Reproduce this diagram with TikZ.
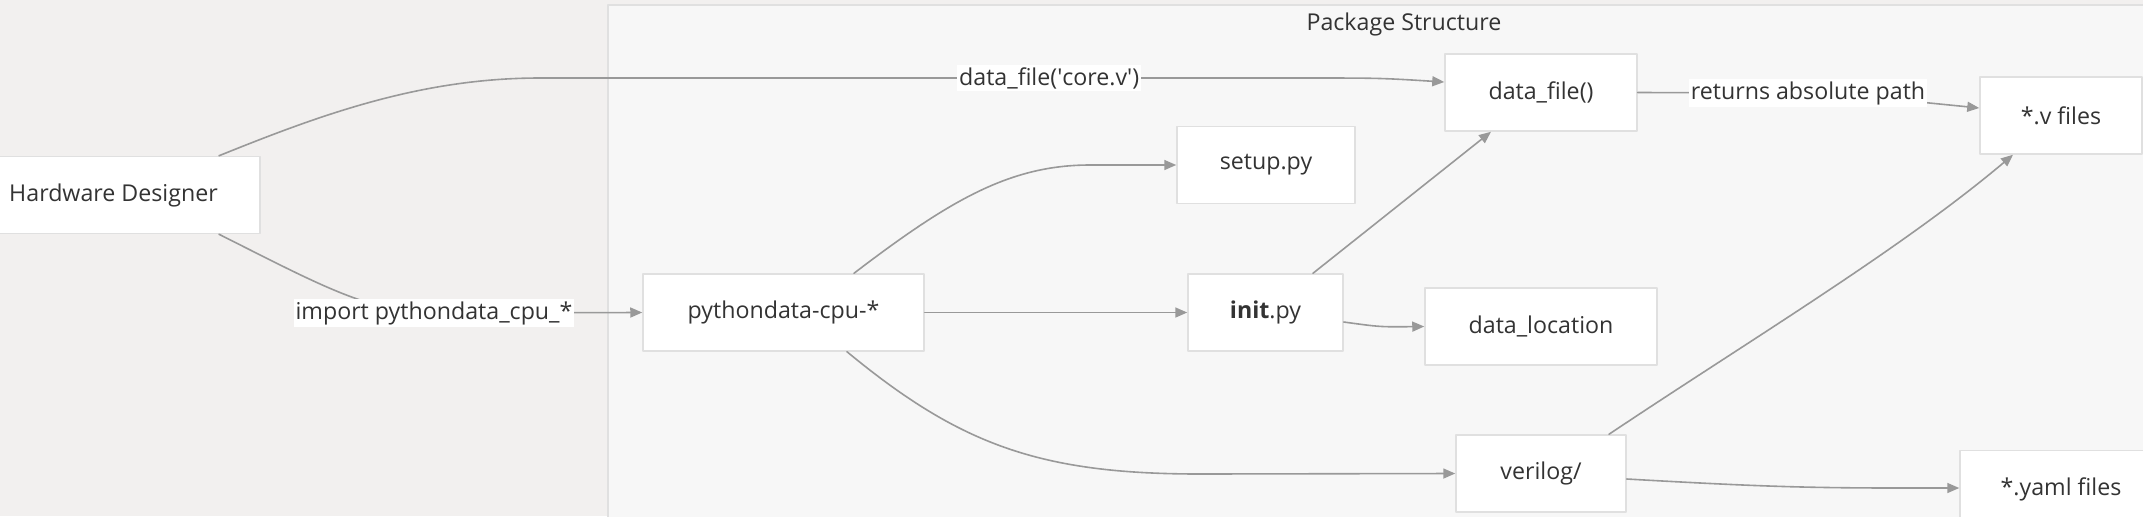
\documentclass[tikz,border=0pt]{standalone}
\usepackage{fontspec}
\setmainfont{Open Sans}
\usetikzlibrary{arrows.meta}
\definecolor{pagebg}{RGB}{242,240,239}
\definecolor{clusterbg}{RGB}{247,247,247}
\definecolor{boxline}{RGB}{224,224,224}
\definecolor{edgegray}{RGB}{153,153,153}
\definecolor{txt}{RGB}{51,51,51}
\begin{document}
\begin{tikzpicture}[x=0.5pt, y=-0.5pt, font=\fontsize{11.6}{13}\selectfont, line join=round, line cap=round, >={Triangle[length=6pt,width=5pt]},
	box/.style={draw=boxline, line width=0.75pt, fill=white, text=txt, minimum height=38.5pt, inner sep=0pt},
	flow/.style={draw=edgegray, line width=0.8pt, ->},
	lbl/.style={fill=white, text=txt, inner sep=1pt}]
	\useasboundingbox[fill=pagebg] (0,0) rectangle (2143,516);
	\draw[draw=boxline, fill=clusterbg, line width=0.75pt] (608,5) rectangle (2160,530);
	\node[text=txt] (title) at (1404,24) {Package Structure};
	% nodes
	\node[box, minimum width=146.5pt] (hd) at (113.5,195) {Hardware Designer};
	\node[box, minimum width=140.5pt] (py) at (783.5,312.5) {pythondata-cpu-*};
	\node[box, minimum width=89pt] (setup) at (1266,165) {setup.py};
	\node[box, minimum width=77.5pt] (init) at (1265.5,312.5) {\textbf{init}.py};
	\node[box, minimum width=96pt] (df) at (1541,92.5) {data\_file()};
	\node[box, minimum width=81pt] (vf) at (2061,115.5) {*.v files};
	\node[box, minimum width=116pt] (dl) at (1541,326.5) {data\_location};
	\node[box, minimum width=85pt] (vl) at (1541,473.5) {verilog/};
	\node[box, minimum width=101pt] (yf) at (2061,489) {*.yaml files};
	% edges
	\draw[flow] (hd.north -| 219,0) .. controls (320,115) and (420,78) .. (540,78) -- node[lbl, pos=0.67] (l1) {data\_file(\textquotesingle core.v\textquotesingle)} (1300,78) .. controls (1380,78) .. (df.west |- 0,82);
	\draw[flow] (hd.south -| 219,0) .. controls (320,285) and (370,313) .. (434,313) node[lbl] (l2) {import pythondata\_cpu\_*} -- (py.west);
	\draw[flow] (py.north -| 854,0) .. controls (950,200) and (1010,165) .. (1090,165) -- (setup.west);
	\draw[flow] (py.east) -- (init.west);
	\draw[flow] (py.south -| 847,0) .. controls (960,445) and (1040,474) .. (1200,474) -- (vl.west);
	\draw[flow] (init.north -| 1313,0) -- (df.south -| 1491,0);
	\draw[flow] (init.east |- 0,322) .. controls (1380,327) .. (dl.west);
	\draw[flow] (df.east) -- (1808,93) node[lbl] (l3) {returns absolute path} .. controls (1900,100) .. (vf.west |- 0,108);
	\draw[flow] (vl.north -| 1609,0) .. controls (1750,340) and (1900,250) .. (vf.south -| 2013,0);
	\draw[flow] (vl.east |- 0,479) .. controls (1750,486) and (1800,488) .. (1900,488) -- (yf.west |- 0,488);
\end{tikzpicture}
\end{document}
